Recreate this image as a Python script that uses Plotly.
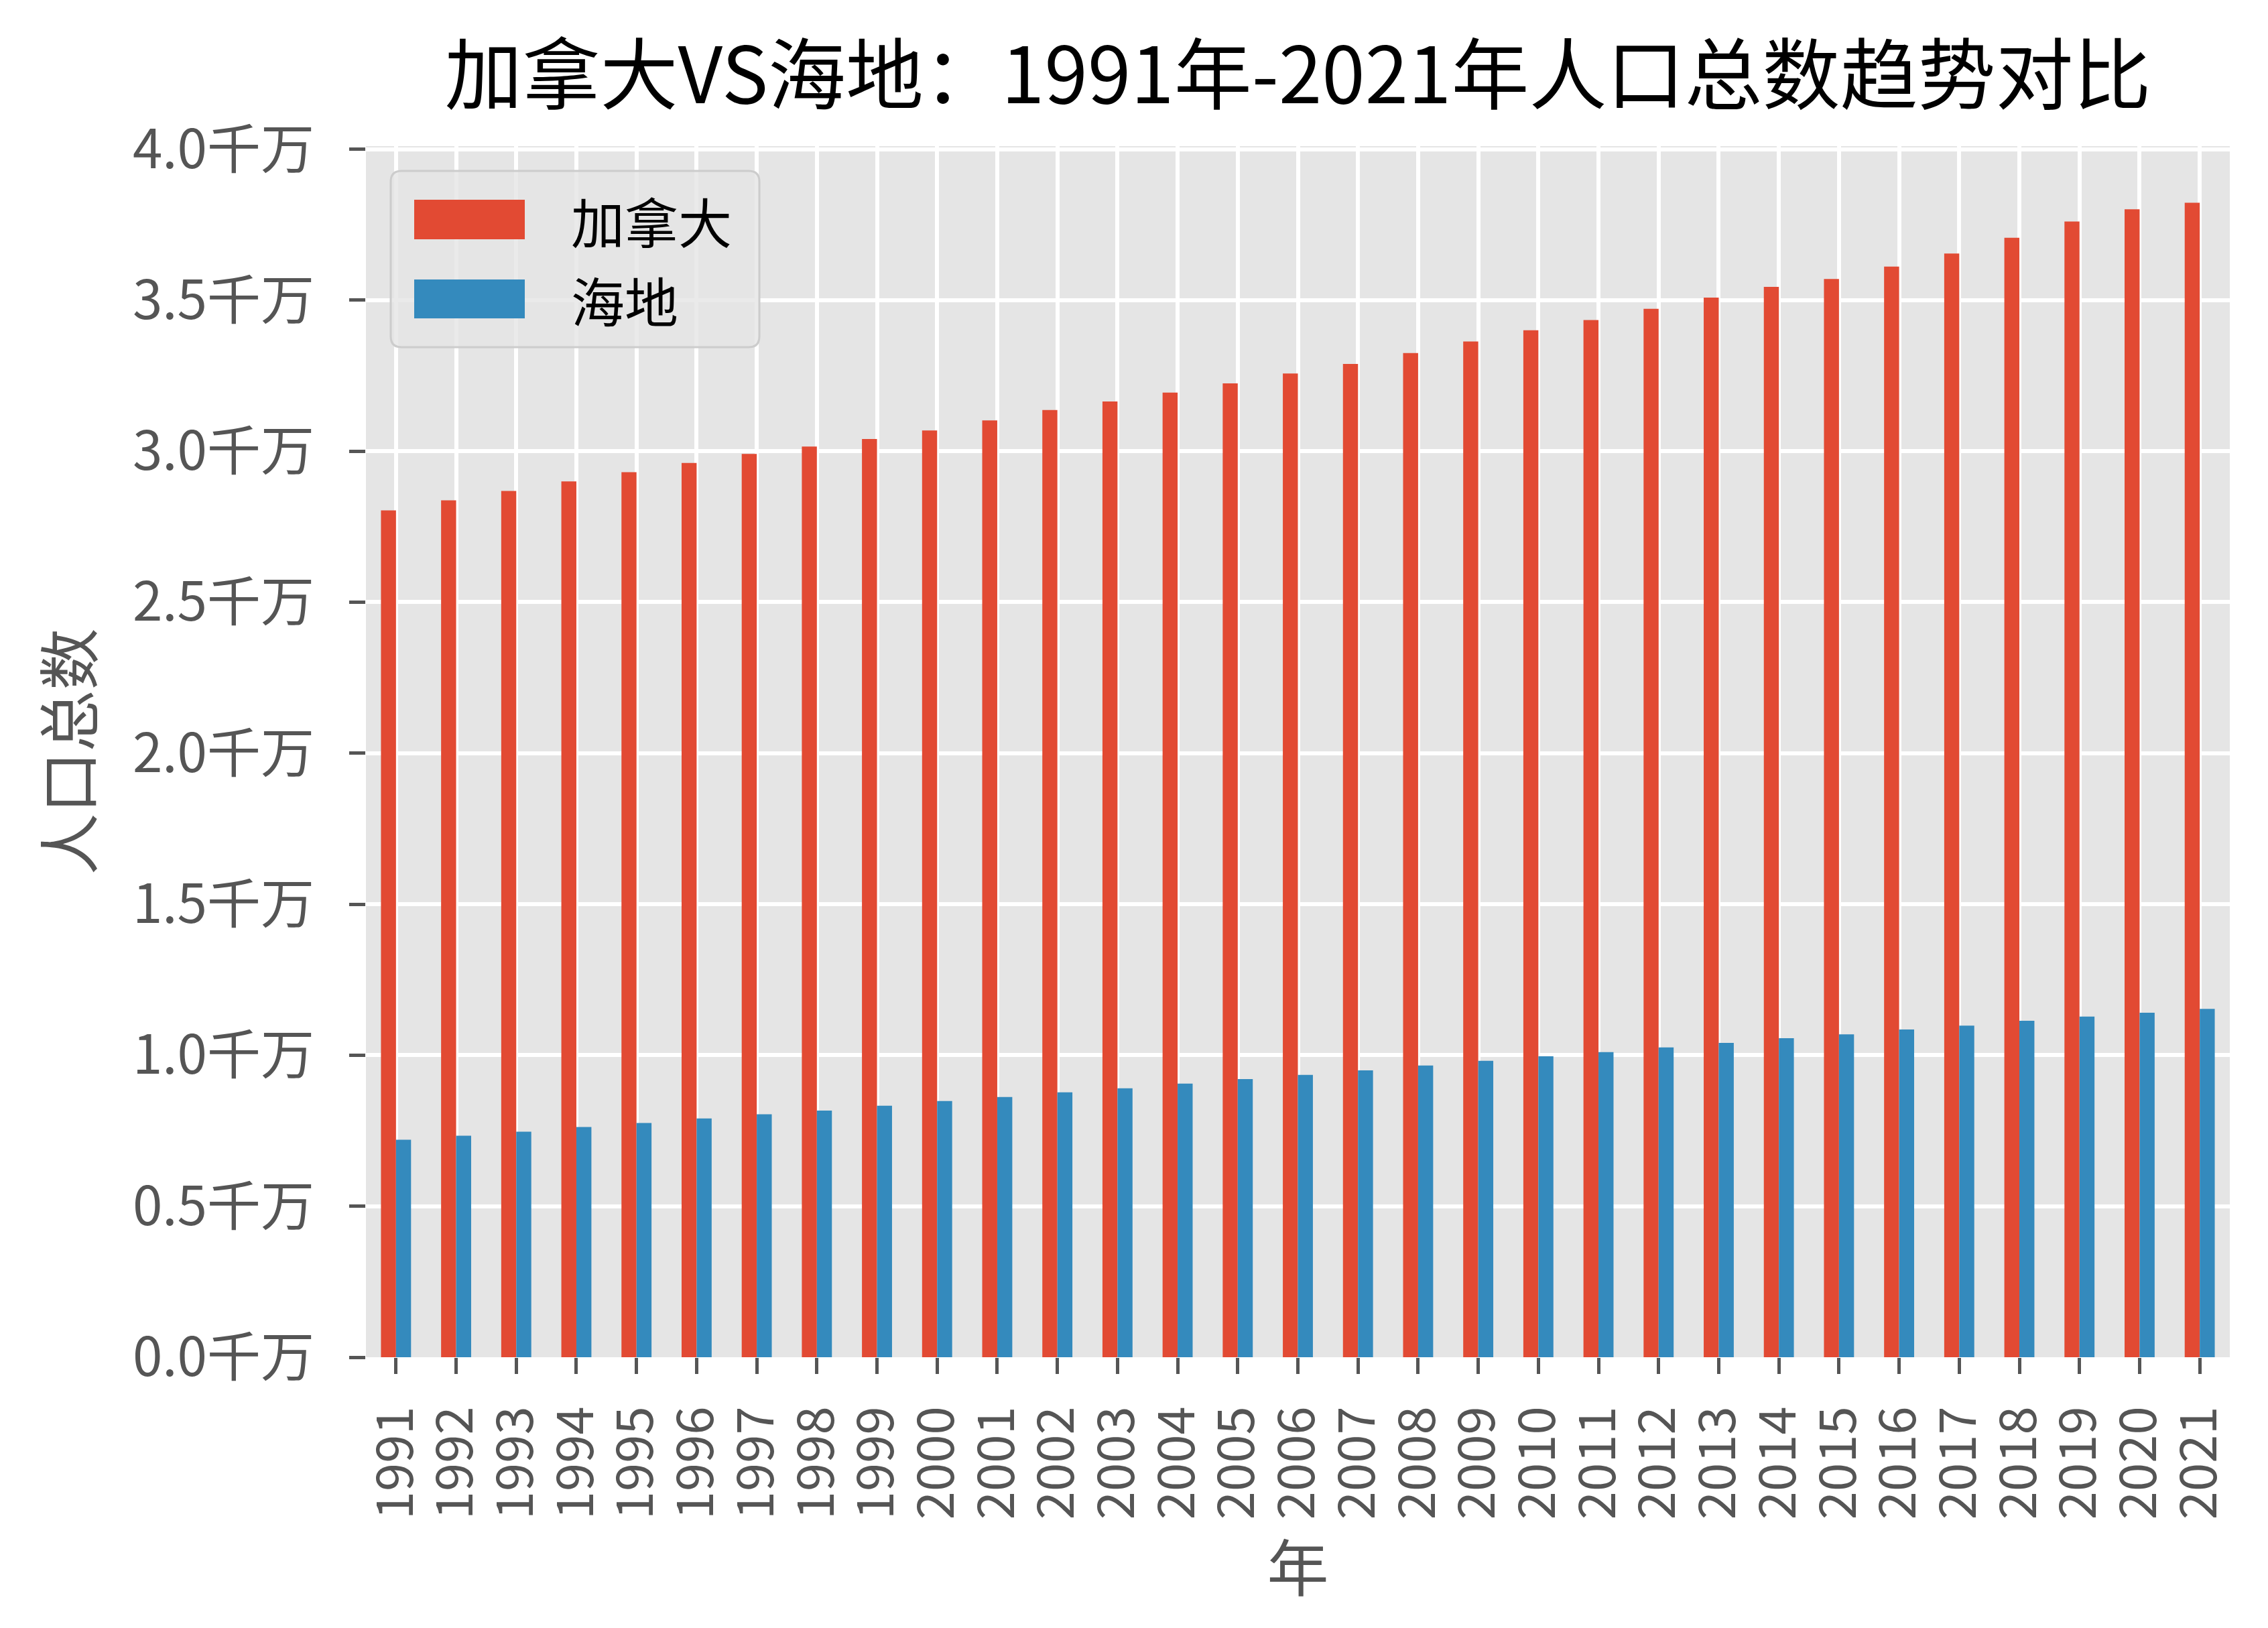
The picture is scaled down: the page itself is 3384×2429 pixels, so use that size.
import plotly.graph_objects as go

# ---------------- data ----------------
years = ["1991", "1992", "1993", "1994", "1995", "1996", "1997", "1998", "1999", "2000",
         "2001", "2002", "2003", "2004", "2005", "2006", "2007", "2008", "2009", "2010",
         "2011", "2012", "2013", "2014", "2015", "2016", "2017", "2018", "2019", "2020", "2021"]

canada = [28037420, 28371264, 28684764, 29000663, 29302311, 29610218, 29905948, 30155173,
          30401286, 30685730, 31020902, 31360079, 31644028, 31940655, 32243753, 32571174,
          32889025, 33247118, 33628895, 34004889, 34339328, 34714222, 35082954, 35437435,
          35702908, 36109487, 36545236, 37065084, 37601230, 38007166, 38226498]

haiti = [7203000, 7332000, 7467000, 7620000, 7755000, 7907000, 8043000, 8169000,
         8330000, 8483000, 8618000, 8771000, 8906000, 9059000, 9212000, 9347000,
         9497000, 9657000, 9814000, 9962000, 10102000, 10259000, 10407000, 10565000,
         10693000, 10852000, 10981000, 11138000, 11278000, 11406000, 11535000]

series_names = ["加拿大", "海地"]
y_tick_values = [0, 5000000, 10000000, 15000000, 20000000, 25000000, 30000000, 35000000, 40000000]
y_tick_labels = ["0.0千万", "0.5千万", "1.0千万", "1.5千万", "2.0千万", "2.5千万", "3.0千万", "3.5千万", "4.0千万"]

title_text = "加拿大VS海地：1991年-2021年人口总数趋势对比"
x_title = "年"
y_title = "人口总数"

# ---------------- style ----------------
RED = "#E24A33"
BLUE = "#348ABD"
GRAY = "#555555"
FONT = "Noto Sans CJK SC"

W, H = 3384, 2429
ML, MR, MT, MB = 538, 65, 210, 412

fig = go.Figure()
fig.add_trace(go.Bar(x=years, y=canada, name=series_names[0], marker=dict(color=RED, line=dict(width=0)),
                     showlegend=False))
fig.add_trace(go.Bar(x=years, y=haiti, name=series_names[1], marker=dict(color=BLUE, line=dict(width=0)),
                     showlegend=False))

fig.update_layout(
    width=W, height=H,
    margin=dict(l=ML, r=MR, t=MT, b=MB, pad=0),
    paper_bgcolor="white",
    plot_bgcolor="#E5E5E5",
    barmode="group", bargap=0.5, bargroupgap=0,
    font=dict(family=FONT, color=GRAY, size=78),
    title=dict(text=title_text, x=0.5, xref="paper", xanchor="center",
               y=1 - 105 / H, yref="container", yanchor="middle",
               font=dict(family=FONT, size=116, color="black")),
)

fig.update_xaxes(
    type="category", range=[-0.5, len(years) - 0.5],
    tickmode="array", tickvals=years, ticktext=years,
    showgrid=True, gridcolor="white", gridwidth=6,
    ticks="outside", ticklen=24, tickwidth=5, tickcolor=GRAY,
    tickangle=-90, tickfont=dict(family=FONT, size=76, color=GRAY),
    ticklabelstandoff=18,
    showline=False, zeroline=False,
    title=dict(text=x_title, font=dict(family=FONT, size=92, color=GRAY), standoff=2),
)
fig.update_yaxes(
    range=[0, 40100000],
    tickvals=y_tick_values, ticktext=y_tick_labels,
    showgrid=True, gridcolor="white", gridwidth=6,
    ticks="outside", ticklen=24, tickwidth=5, tickcolor=GRAY,
    tickfont=dict(family=FONT, size=80, color=GRAY),
    ticklabelstandoff=36,
    showline=False, zeroline=False,
    title=dict(text=y_title, font=dict(family=FONT, size=92, color=GRAY), standoff=28),
)

# ---------------- custom legend (matplotlib-like) ----------------
pw = W - ML - MR
ph = H - MT - MB


def px_x(x):
    return (x - ML) / pw


def px_y(y):
    return (H - MB - y) / ph


x0, x1 = px_x(575), px_x(1125)
y0, y1 = px_y(510), px_y(247)
rx, ry = 16 / pw, 16 / ph
path = (f"M {x0+rx},{y0} L {x1-rx},{y0} Q {x1},{y0} {x1},{y0+ry} "
        f"L {x1},{y1-ry} Q {x1},{y1} {x1-rx},{y1} L {x0+rx},{y1} Q {x0},{y1} {x0},{y1-ry} "
        f"L {x0},{y0+ry} Q {x0},{y0} {x0+rx},{y0} Z")
fig.add_shape(type="path", path=path, xref="paper", yref="paper",
              fillcolor="rgba(229,229,229,0.8)", line=dict(color="#CCCCCC", width=3), layer="above")

legend_rows = [(series_names[0], RED, 290, 349), (series_names[1], BLUE, 409, 467)]
for name, color, top, bot in legend_rows:
    fig.add_shape(type="rect", xref="paper", yref="paper",
                  x0=px_x(610), x1=px_x(775), y0=px_y(bot), y1=px_y(top),
                  fillcolor=color, line=dict(width=0), layer="above")
    fig.add_annotation(text=name, xref="paper", yref="paper",
                       x=px_x(842), y=px_y((top + bot) / 2), xanchor="left", yanchor="middle",
                       showarrow=False, font=dict(family=FONT, size=80, color="black"))

fig.write_html("out.html")
